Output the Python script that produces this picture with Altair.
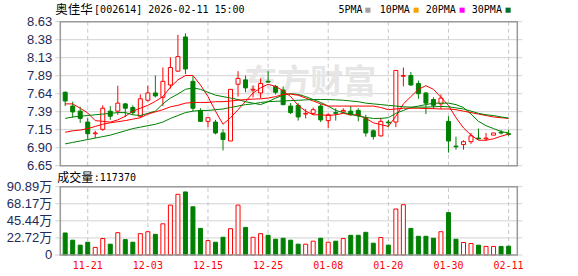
import altair as alt
import pandas as pd

# ---------------- data ----------------
dates = ['11-18','11-19','11-20','11-21','11-24','11-25','11-26','11-27','11-28','12-01','12-02','12-03',
         '12-04','12-05','12-08','12-09','12-10','12-11','12-12','12-15','12-16','12-17','12-18','12-19',
         '12-22','12-23','12-24','12-25',
         '12-26','12-29','12-30','12-31','01-05','01-06','01-07','01-08','01-09','01-12','01-13','01-14',
         '01-15','01-16','01-19','01-20',
         '01-21','01-22','01-23','01-26','01-27','01-28','01-29','01-30','02-02','02-03','02-04','02-05',
         '02-06','02-09','02-10','02-11']

opens = [7.66, 7.47, 7.40, 7.25, 7.09, 7.15, 7.40, 7.40, 7.50, 7.45,
         7.33, 7.55, 7.65, 7.59, 7.76, 7.95, 8.42, 7.81, 7.41, 7.26,
         7.25, 7.10, 6.99, 7.77, 7.83, 7.69, 7.65, 7.81, 7.74, 7.69,
         7.47, 7.48, 7.36, 7.37, 7.47, 7.27, 7.38, 7.39, 7.40, 7.41,
         7.30, 7.13, 7.06, 7.25, 7.25, 7.88, 7.89, 7.78, 7.65, 7.56,
         7.50, 7.26, 6.92, 6.94, 6.98, 7.03, 7.02, 7.07, 7.11, 7.09]
highs = [7.67, 7.53, 7.46, 7.31, 7.13, 7.48, 7.47, 7.75, 7.51, 7.48,
         7.63, 7.75, 7.89, 8.00, 8.14, 8.45, 8.47, 7.88, 7.44, 7.31,
         7.28, 7.15, 7.70, 7.95, 7.89, 7.75, 7.85, 7.95, 7.76, 7.74,
         7.51, 7.51, 7.43, 7.45, 7.50, 7.37, 7.44, 7.44, 7.47, 7.44,
         7.35, 7.15, 7.31, 7.28, 7.96, 8.00, 7.94, 7.82, 7.66, 7.59,
         7.63, 7.33, 7.05, 7.00, 7.10, 7.16, 7.10, 7.10, 7.14, 7.14]
lows = [7.47, 7.31, 7.24, 7.01, 7.03, 7.13, 7.28, 7.35, 7.32, 7.35,
        7.31, 7.53, 7.59, 7.47, 7.71, 7.94, 7.91, 7.40, 7.25, 7.18,
        7.08, 6.86, 6.99, 7.60, 7.66, 7.59, 7.58, 7.79, 7.63, 7.48,
        7.36, 7.27, 7.30, 7.35, 7.25, 7.17, 7.27, 7.37, 7.34, 7.26,
        7.05, 7.01, 7.05, 7.18, 7.18, 7.74, 7.75, 7.57, 7.36, 7.43,
        7.43, 6.83, 6.87, 6.87, 6.95, 7.01, 6.99, 7.07, 7.08, 7.06]
closes = [7.54, 7.39, 7.30, 7.09, 7.10, 7.44, 7.33, 7.51, 7.44, 7.38,
          7.57, 7.65, 7.61, 7.81, 8.00, 8.15, 7.98, 7.44, 7.26, 7.31,
          7.10, 7.01, 7.70, 7.85, 7.72, 7.70, 7.78, 7.80, 7.66, 7.49,
          7.38, 7.32, 7.37, 7.42, 7.28, 7.35, 7.37, 7.41, 7.35, 7.34,
          7.10, 7.05, 7.26, 7.24, 7.96, 7.89, 7.76, 7.64, 7.51, 7.48,
          7.58, 6.99, 6.91, 6.98, 7.06, 7.02, 7.03, 7.10, 7.10, 7.08]
# volume in units of 万 (10,000 shares)
vols = [29.3, 19.7, 13.1, 17.0, 10.1, 21.9, 14.4, 29.7, 20.5, 17.0,
        28.4, 31.0, 27.5, 41.5, 66.4, 80.8, 83.9, 64.2, 35.4, 19.2,
        17.0, 23.6, 35.0, 66.4, 36.7, 23.6, 28.4, 26.2, 21.0, 22.3,
        19.7, 14.4, 14.4, 18.4, 22.3, 17.0, 18.4, 21.9, 26.2, 26.2,
        30.2, 15.7, 23.2, 13.1, 61.2, 66.9, 35.4, 24.9, 24.9, 22.3,
        31.0, 56.4, 21.0, 16.6, 15.3, 13.1, 11.4, 11.4, 11.4, 11.737]

ma5 = [7.50, 7.50, 7.44, 7.375, 7.27, 7.26, 7.25, 7.28, 7.33, 7.40,
       7.44, 7.48, 7.535, 7.60, 7.73, 7.83, 7.89, 7.89, 7.76, 7.60,
       7.40, 7.22, 7.31, 7.42, 7.535, 7.65, 7.72, 7.77, 7.74, 7.68,
       7.60, 7.48, 7.40, 7.35, 7.35, 7.34, 7.35, 7.37, 7.35, 7.35,
       7.30, 7.24, 7.215, 7.19, 7.33, 7.50, 7.60, 7.70, 7.75, 7.70,
       7.59, 7.48, 7.31, 7.17, 7.07, 7.00, 7.00, 7.02, 7.055, 7.085]
ma10 = [7.30, 7.32, 7.33, 7.34, 7.35, 7.36, 7.37, 7.38, 7.38, 7.35,
        7.34, 7.37, 7.40, 7.50, 7.58, 7.635, 7.70, 7.72, 7.70, 7.66,
        7.62, 7.60, 7.58, 7.56, 7.53, 7.51, 7.49, 7.53, 7.58, 7.62,
        7.64, 7.63, 7.60, 7.56, 7.52, 7.47, 7.41, 7.38, 7.36, 7.33,
        7.315, 7.30, 7.30, 7.31, 7.37, 7.41, 7.45, 7.47, 7.49, 7.51,
        7.51, 7.51, 7.49, 7.45, 7.36, 7.26, 7.20, 7.16, 7.12, 7.10]
ma20 = [7.11, 7.13, 7.14, 7.16, 7.19, 7.22, 7.24, 7.255, 7.27, 7.29,
        7.31, 7.36, 7.39, 7.42, 7.46, 7.48, 7.51, 7.52, 7.52, 7.52,
        7.53, 7.53, 7.54, 7.55, 7.56, 7.565, 7.57, 7.58, 7.60, 7.63,
        7.635, 7.62, 7.58, 7.54, 7.50, 7.47, 7.47, 7.47, 7.47, 7.47,
        7.47, 7.47, 7.45, 7.42, 7.43, 7.44, 7.44, 7.44, 7.435, 7.435,
        7.43, 7.43, 7.42, 7.40, 7.38, 7.36, 7.34, 7.32, 7.31, 7.30]
ma30 = [6.95, 6.97, 6.99, 7.01, 7.03, 7.05, 7.07, 7.10, 7.13, 7.16,
        7.18, 7.20, 7.22, 7.25, 7.30, 7.34, 7.38, 7.40, 7.41, 7.41,
        7.42, 7.43, 7.45, 7.47, 7.49, 7.50, 7.52, 7.53, 7.535, 7.54,
        7.545, 7.55, 7.555, 7.56, 7.56, 7.56, 7.555, 7.55, 7.54, 7.53,
        7.51, 7.50, 7.49, 7.48, 7.47, 7.46, 7.455, 7.455, 7.455, 7.46,
        7.465, 7.46, 7.445, 7.43, 7.40, 7.37, 7.35, 7.34, 7.32, 7.305]

ma_names = ['5PMA', '10PMA', '20PMA', '30PMA']
axis_dates = ['11-21', '12-03', '12-15', '12-25', '01-08', '01-20', '01-30', '02-11']
price_labels = ['6.65', '6.90', '7.15', '7.39', '7.64', '7.89', '8.13', '8.38', '8.63']
vol_labels = ['0', '22.72万', '45.44万', '68.17万', '90.89万']
stock_name = '奥佳华'
stock_info = '[002614] 2026-02-11 15:00'
vol_title = '成交量'
vol_last = ':117370'
watermark = '东方财富'

# ---------------- layout / style ----------------
PAD_L, PAD_T = 55.3, 21.7
W, H = 467, 233.3
PRICE_RANGE = [144.0, 0]
VOL_RANGE = [233.3, 165.0]
P_MIN, P_MAX = 6.65, 8.63
V_MAX = 90.89
X_DOM = [-0.65, 60.16]
RED, GREEN = '#ff0000', '#008000'
MA_COLORS = ['#a0a0a0', '#f5a300', '#ff00ff', '#006e32']
LABEL_COLOR = '#1e2b5a'
GRID = '#d2d2d2'
BORDER = '#9a9a9a'
MONO = 'DejaVu Sans Mono'
SANS = 'Liberation Sans, Noto Sans CJK SC'
CJK = 'Noto Sans CJK SC'

n = len(dates)
df = pd.DataFrame({'i': list(range(n)), 'date': dates, 'open': opens, 'high': highs,
                   'low': lows, 'close': closes, 'vol': vols})
df['dir'] = ['up' if c >= o else 'down' for o, c in zip(opens, closes)]

ma_df = pd.concat([pd.DataFrame({'i': list(range(n)), 'value': v, 'series': nm})
                   for nm, v in zip(ma_names, [ma5, ma10, ma20, ma30])])

grid_idx = [dates.index(d) for d in axis_dates]
grid_p = pd.DataFrame({'i': grid_idx, 'lo': P_MIN, 'hi': P_MAX})
grid_v = pd.DataFrame({'i': grid_idx, 'lo': 0.0, 'hi': V_MAX, 'lab': axis_dates})
box_p = pd.DataFrame({'x0': [X_DOM[0]], 'x1': [X_DOM[1]], 'lo': [P_MIN], 'hi': [P_MAX]})
box_v = pd.DataFrame({'x0': [X_DOM[0]], 'x1': [X_DOM[1]], 'lo': [0.0], 'hi': [V_MAX]})
one = pd.DataFrame({'k': [0]})

p_step = (P_MAX - P_MIN) / (len(price_labels) - 1)
ptick = pd.DataFrame({'v': [P_MIN + k * p_step for k in range(len(price_labels))], 'lab': price_labels})
v_step = V_MAX / (len(vol_labels) - 1)
vtick = pd.DataFrame({'v': [k * v_step for k in range(len(vol_labels))], 'lab': vol_labels})

xs = alt.Scale(domain=X_DOM, nice=False, zero=False)
ys_p = alt.Scale(domain=[P_MIN, P_MAX], range=PRICE_RANGE, nice=False, zero=False)
ys_v = alt.Scale(domain=[0, V_MAX], range=VOL_RANGE, nice=False, zero=False)

Xn = alt.X('i:Q', scale=xs, axis=None)


def hgrid(tdf, ys):
    return alt.Chart(tdf).mark_rule(color=GRID, strokeWidth=1).encode(
        x=alt.value(0), x2=alt.value(W), y=alt.Y('v:Q', scale=ys, axis=None))


def ylabels(tdf, ys):
    return alt.Chart(tdf).mark_text(font=SANS, fontSize=13, color=LABEL_COLOR, align='right',
                                    baseline='middle').encode(
        x=alt.value(-3), y=alt.Y('v:Q', scale=ys, axis=None), text='lab:N')


def vgrid(gdf, ys):
    return alt.Chart(gdf).mark_rule(color='#c8c8c8', strokeDash=[4, 3], strokeWidth=1).encode(
        x=Xn, y=alt.Y('lo:Q', scale=ys, axis=None), y2='hi:Q')


def border(bdf, ys):
    return alt.Chart(bdf).mark_rect(fillOpacity=0, stroke=BORDER, strokeWidth=1.5).encode(
        x=alt.X('x0:Q', scale=xs, axis=None), x2='x1:Q',
        y=alt.Y('lo:Q', scale=ys, axis=None), y2='hi:Q')


# ---------------- price panel ----------------
wm = alt.Chart(one).mark_text(font=CJK, fontSize=33, fontWeight='bold', color='#e6e6e6',
                              align='center', baseline='middle').encode(
    text=alt.value(watermark), x=alt.value(255), y=alt.value(61))

wicks = alt.Chart(df).mark_rule(strokeWidth=1).encode(
    x=Xn, y=alt.Y('low:Q', scale=ys_p, axis=None), y2='high:Q',
    color=alt.Color('dir:N', scale=alt.Scale(domain=['up', 'down'], range=[RED, GREEN]), legend=None))

body_up = alt.Chart(df).transform_filter("datum.dir == 'up'").mark_bar(
    size=4, fill='white', stroke=RED, strokeWidth=1).encode(
    x=Xn, y=alt.Y('open:Q', scale=ys_p, axis=None), y2='close:Q')

body_dn = alt.Chart(df).transform_filter("datum.dir == 'down'").mark_bar(
    size=4, fill=GREEN, stroke=GREEN, strokeWidth=1).encode(
    x=Xn, y=alt.Y('open:Q', scale=ys_p, axis=None), y2='close:Q')

ma_lines = alt.Chart(ma_df).mark_line(strokeWidth=1).encode(
    x=Xn, y=alt.Y('value:Q', scale=ys_p, axis=None),
    color=alt.Color('series:N', scale=alt.Scale(domain=ma_names, range=MA_COLORS), legend=None),
    detail='series:N')

title1 = alt.Chart(one).mark_text(font=CJK, fontSize=12.5, color='black', align='left',
                                  baseline='middle').encode(
    text=alt.value(stock_name), x=alt.value(0), y=alt.value(-12))
title2 = alt.Chart(one).mark_text(font=MONO, fontSize=10, color='black', align='left',
                                  baseline='middle').encode(
    text=alt.value(stock_info), x=alt.value(38.8), y=alt.value(-12))

leg_text_x = [283.1, 324.4, 370.4, 416.5]
leg_sq_x = [312.6, 360.8, 406.8, 452.8]
legend_layers = []
for name, col, tx, sx in zip(ma_names, MA_COLORS, leg_text_x, leg_sq_x):
    legend_layers.append(alt.Chart(one).mark_text(font=MONO, fontSize=10, color='black', align='left',
                                                  baseline='middle').encode(
        text=alt.value(name), x=alt.value(tx), y=alt.value(-12)))
    legend_layers.append(alt.Chart(one).mark_square(size=26, opacity=1, color=col).encode(
        x=alt.value(sx), y=alt.value(-11.5)))

price = alt.layer(hgrid(ptick, ys_p), wm, vgrid(grid_p, ys_p), wicks, body_up, body_dn, ma_lines,
                  border(box_p, ys_p), ylabels(ptick, ys_p), title1, title2, *legend_layers)

# ---------------- volume panel ----------------
vol_up = alt.Chart(df).transform_filter("datum.dir == 'up'").mark_bar(
    size=4, fill='white', stroke=RED, strokeWidth=1).encode(
    x=Xn, y=alt.Y('vol:Q', scale=ys_v, axis=None))
vol_dn = alt.Chart(df).transform_filter("datum.dir == 'down'").mark_bar(
    size=4, fill=GREEN, stroke=GREEN, strokeWidth=1).encode(
    x=Xn, y=alt.Y('vol:Q', scale=ys_v, axis=None))

xlabels = alt.Chart(grid_v).mark_text(font=MONO, fontSize=10, color=RED, align='center',
                                      baseline='middle').encode(
    x=Xn, y=alt.value(H + 11), text='lab:N')

vt1 = alt.Chart(one).mark_text(font=CJK, fontSize=12, color='black', align='left',
                               baseline='middle').encode(
    text=alt.value(vol_title), x=alt.value(2), y=alt.value(156))
vt2 = alt.Chart(one).mark_text(font=MONO, fontSize=10, color='black', align='left',
                               baseline='middle').encode(
    text=alt.value(vol_last), x=alt.value(38.5), y=alt.value(156))

volume = alt.layer(hgrid(vtick, ys_v), vgrid(grid_v, ys_v), vol_up, vol_dn, border(box_v, ys_v),
                   ylabels(vtick, ys_v), xlabels, vt1, vt2)

chart = alt.layer(price, volume).resolve_scale(y='independent').properties(
    width=W, height=H,
    autosize=alt.AutoSizeParams(type='none'),
    padding={'left': PAD_L, 'top': PAD_T, 'right': 578 - PAD_L - W, 'bottom': 276 - PAD_T - H},
    background='white'
).configure_view(stroke=None)

chart.save('out.html', embed_options={'renderer': 'svg', 'actions': False})
